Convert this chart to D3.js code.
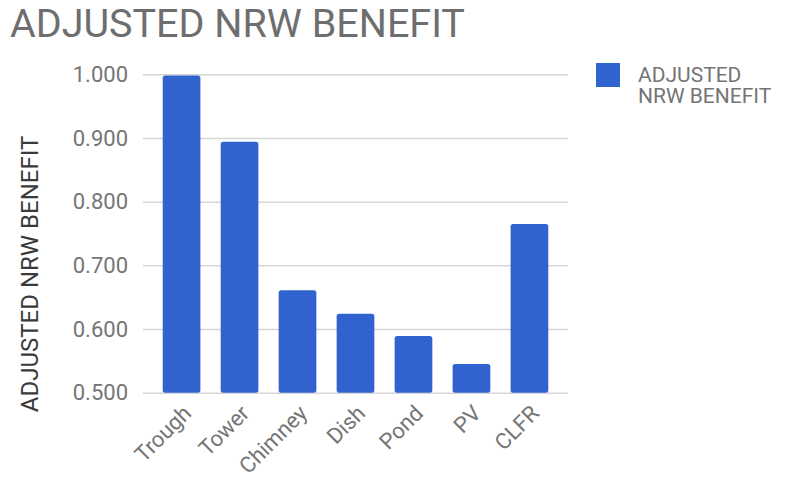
<!DOCTYPE html>
<html>
<head>
<meta charset="utf-8">
<script src="https://cdn.jsdelivr.net/npm/d3@7"></script>
<style>
  body { margin: 0; background: #fff; }
  svg { display: block; font-family: Roboto, "Noto Sans", sans-serif; }
</style>
</head>
<body>
<svg id="drawing_region"></svg>
<script>
const categories = [ "Trough", "Tower", "Chimney", "Dish", "Pond", "PV", "CLFR" ];
const values = [ 0.998, 0.894, 0.661, 0.624, 0.589, 0.545, 0.765 ];
const y_ticks = [ 0.5, 0.6, 0.7, 0.8, 0.9, 1.0 ];
const series_name = "ADJUSTED NRW BENEFIT";
const legend_lines = [ "ADJUSTED", "NRW BENEFIT" ];

const width = 790, height = 481;
const plot = { left: 143, right: 568, top: 74.3, bottom: 392.7 };

const svg = d3.select( '#drawing_region' )
    .attr( 'width', width )
    .attr( 'height', height );

const xscale = d3.scaleBand()
    .domain( categories )
    .range( [ plot.left, plot.right ] )
    .paddingInner( 0.35 )
    .paddingOuter( 0.34 );

const yscale = d3.scaleLinear()
    .domain( [ 0.5, 1.0 ] )
    .range( [ plot.bottom, plot.top ] );

// title
svg.append( 'text' )
    .attr( 'x', 10 )
    .attr( 'y', 37 )
    .attr( 'font-size', 39.5 )
    .attr( 'fill', '#6e6e6e' )
    .text( series_name );

// y axis with gridlines
const yaxis = d3.axisLeft( yscale )
    .tickValues( y_ticks )
    .tickSize( -( plot.right - plot.left ) )
    .tickPadding( 15 )
    .tickFormat( d3.format( '.3f' ) );

const yaxis_group = svg.append( 'g' )
    .attr( 'transform', `translate(${plot.left}, 0)` )
    .call( yaxis );
yaxis_group.select( '.domain' ).remove();
yaxis_group.selectAll( 'line' )
    .attr( 'stroke', '#d6d6d6' )
    .attr( 'stroke-width', 1.5 );
yaxis_group.selectAll( 'text' )
    .attr( 'font-size', 22 )
    .attr( 'font-family', 'Roboto, sans-serif' )
    .attr( 'fill', '#757575' );

// bars
svg.append( 'g' ).selectAll( 'rect' )
    .data( values )
    .enter()
    .append( 'rect' )
    .attr( 'x', ( d, i ) => xscale( categories[i] ) )
    .attr( 'y', d => yscale( d ) )
    .attr( 'width', xscale.bandwidth() )
    .attr( 'height', d => yscale( 0.5 ) - yscale( d ) )
    .attr( 'rx', 2.5 )
    .attr( 'fill', '#3163cf' );

// x axis
const xaxis = d3.axisBottom( xscale )
    .tickSize( 0 )
    .tickPadding( 0 );

const xaxis_group = svg.append( 'g' )
    .attr( 'transform', `translate(0, ${plot.bottom})` )
    .call( xaxis );
xaxis_group.select( '.domain' ).remove();
xaxis_group.selectAll( 'text' )
    .attr( 'font-size', 22 )
    .attr( 'font-family', 'Roboto, sans-serif' )
    .attr( 'fill', '#757575' )
    .attr( 'text-anchor', 'end' )
    .attr( 'dy', null )
    .attr( 'y', 0 )
    .attr( 'transform', 'translate(11, 22) rotate(-45)' );

// y axis title
svg.append( 'text' )
    .attr( 'transform', 'translate(38, 274) rotate(-90)' )
    .attr( 'text-anchor', 'middle' )
    .attr( 'font-size', 24 )
    .attr( 'fill', '#3a3a3a' )
    .text( series_name );

// legend
const legend = svg.append( 'g' )
    .attr( 'transform', 'translate(596, 63)' );
legend.append( 'rect' )
    .attr( 'width', 24 )
    .attr( 'height', 24 )
    .attr( 'fill', '#3163cf' );
legend.selectAll( 'text' )
    .data( legend_lines )
    .enter()
    .append( 'text' )
    .attr( 'x', 42 )
    .attr( 'y', ( d, i ) => 19 + i * 20.5 )
    .attr( 'font-size', 21 )
    .attr( 'fill', '#757575' )
    .text( d => d );
</script>
</body>
</html>
